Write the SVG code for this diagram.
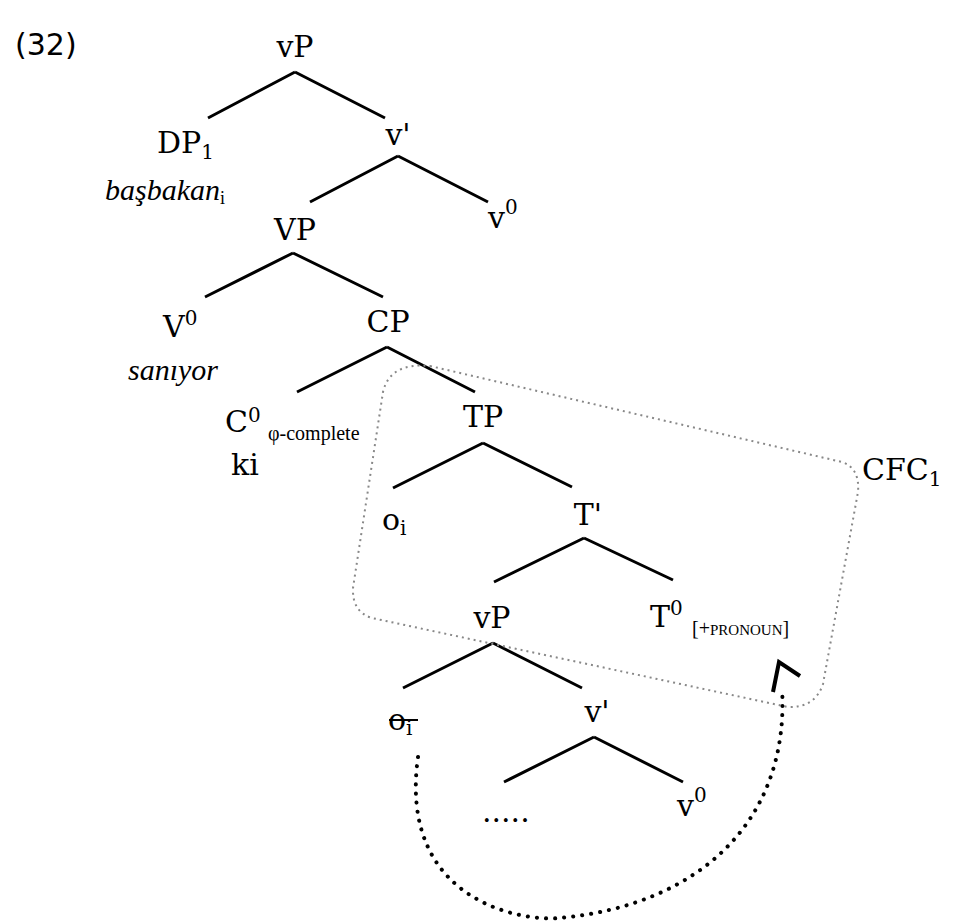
<svg xmlns="http://www.w3.org/2000/svg" width="959" height="922" viewBox="0 0 959 922">
<style>
text{font-family:"DejaVu Serif",serif;fill:#000}
.l{font-size:30px}
.s{font-size:20px}
.i{font-family:"Liberation Serif",serif;font-style:italic;font-size:30px}
.e{stroke:#000;stroke-width:3;fill:none}
</style>
<rect width="959" height="922" fill="#fff"/>
<text x="15" y="55" style="font-family:'DejaVu Sans',sans-serif;font-size:30px">(32)</text>
<g id="connectors">
<path class="e" d="M295,72L208,118M295,72L385,118M398,156L310,202M398,156L488,202M293,253L205,297M293,253L383,297M387,347L297,392M387,347L475,392M483,443L393,488M483,443L572,487M584,538L494,582M584,538L673,580M493,643L403,688M493,643L582,688M594,737L504,782M594,737L683,782"/>
<path d="M430,366 L842,462 Q860,468 858,492 L823,684 Q815,708 788,707 L372,618 Q352,612 353,588 L383,392 Q390,362 430,366Z" fill="none" stroke="#888" stroke-width="2" stroke-dasharray="2,4"/>
<path d="M418,757 C398,900 520,922 560,918 C700,905 790,820 782,688" fill="none" stroke="#000" stroke-width="4" stroke-dasharray="0.1,9" stroke-linecap="round"/>
<path d="M773,692 L779,662 L800,676" fill="none" stroke="#000" stroke-width="4"/>
</g>
<g id="n-vP"><text class="l" x="295" y="57" text-anchor="middle">vP</text></g>
<g id="n-DP1"><text class="l" x="157" y="153">DP<tspan class="s" dy="6">1</tspan></text></g>
<g id="n-v1"><text class="l" x="398" y="145" text-anchor="middle">v'</text></g>
<g id="n-basbakan"><text class="i" x="105" y="200">başbakan<tspan style="font-style:normal;font-size:18px" dy="4">i</tspan></text></g>
<g id="n-v0a"><text class="l" x="488" y="228">v<tspan class="s" dy="-14">0</tspan></text></g>
<g id="n-VP"><text class="l" x="295" y="240" text-anchor="middle">VP</text></g>
<g id="n-V0"><text class="l" x="163" y="337">V<tspan class="s" dy="-12">0</tspan></text></g>
<g id="n-CP"><text class="l" x="388" y="332" text-anchor="middle">CP</text></g>
<g id="n-saniyor"><text class="i" x="128" y="380">sanıyor</text></g>
<g id="n-C0"><text class="l" x="225" y="432">C<tspan class="s" dy="-10">0</tspan></text><text x="268" y="440" style="font-family:'Liberation Serif',serif;font-size:20px">φ-complete</text><text class="l" x="231" y="475">ki</text></g>
<g id="n-TP"><text class="l" x="483" y="427" text-anchor="middle">TP</text></g>
<g id="n-oi"><text class="l" x="382" y="530">o<tspan class="s" dy="5">i</tspan></text></g>
<g id="n-T1"><text class="l" x="588" y="525" text-anchor="middle">T'</text></g>
<g id="n-vP2"><text class="l" x="492" y="628" text-anchor="middle">vP</text></g>
<g id="n-T0"><text class="l" x="650" y="627">T<tspan class="s" dy="-12">0</tspan></text><text x="692" y="635" style="font-family:'Liberation Serif',serif;font-size:20px">[+<tspan font-size="15">PRONOUN</tspan>]</text></g>
<g id="n-theta"><text class="l" x="388" y="730">o<tspan class="s" dy="5">i</tspan></text><line x1="389" y1="720" x2="418" y2="720" stroke="#000" stroke-width="2"/></g>
<g id="n-v2"><text class="l" x="597" y="722" text-anchor="middle">v'</text></g>
<g id="n-dots"><text class="l" x="482" y="822">.....</text></g>
<g id="n-v0b"><text class="l" x="677" y="816">v<tspan class="s" dy="-14">0</tspan></text></g>
<g id="n-CFC"><text class="l" x="862" y="480">CFC<tspan class="s" dy="6">1</tspan></text></g>
</svg>
